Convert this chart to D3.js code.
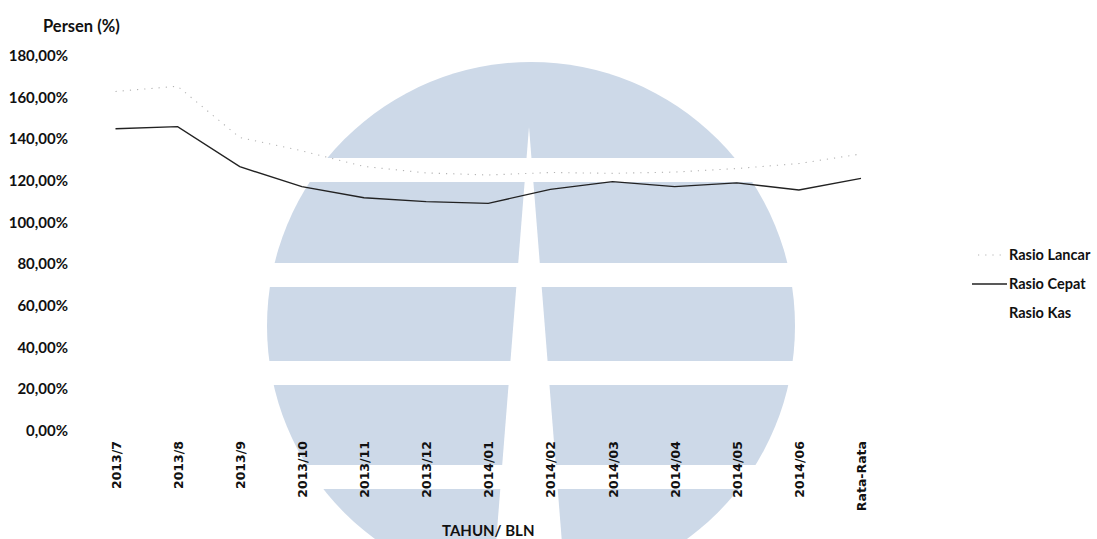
<!DOCTYPE html>
<html>
<head>
<meta charset="utf-8">
<script src="https://cdn.jsdelivr.net/npm/d3@7"></script>
<style>
  html, body { margin: 0; padding: 0; background: #fff; }
  svg { display: block; }
</style>
</head>
<body>
<svg id="chart" width="1097" height="539"></svg>
<script>
// ---- data ----
const categories = ["2013/7","2013/8","2013/9","2013/10","2013/11","2013/12","2014/01","2014/02","2014/03","2014/04","2014/05","2014/06","Rata-Rata"];
const rasioLancar = [162.5,165.0,140.4,134.0,126.5,123.4,122.4,123.6,123.2,123.8,125.5,127.9,132.5];
const rasioCepat  = [144.6,145.6,126.4,116.8,111.5,109.6,108.8,115.5,119.2,116.8,118.6,115.2,120.8];
const yTicks = [0,20,40,60,80,100,120,140,160,180];
const seriesNames = ["Rasio Lancar","Rasio Cepat","Rasio Kas"];
const yTitle = "Persen (%)";
const xTitle = "TAHUN/ BLN";

// ---- setup ----
const svg = d3.select("#chart");

const x = d3.scalePoint().domain(categories).range([115.5, 861]);
const y = d3.scaleLinear().domain([0, 180]).range([430, 55]);

// ---- watermark (background logo) ----
const wm = svg.append("g");
const wmColor = "#cdd9e8";
wm.append("circle").attr("cx", 531).attr("cy", 326).attr("r", 264).attr("fill", wmColor);
[[158,182],[263,287],[361,385],[465,489]].forEach(b => {
  wm.append("rect").attr("x", 250).attr("y", b[0]).attr("width", 560).attr("height", b[1]-b[0]).attr("fill", "#fff");
});
wm.append("polygon").attr("points", "529,127 566.5,600 491.5,600").attr("fill", "#fff");

// ---- axes ----
const locale = d3.formatLocale({decimal: ",", thousands: ".", grouping: [3], currency: ["", ""]});
const fmt = v => locale.format(".2f")(v) + "%";

const yAxis = svg.append("g")
  .attr("transform", "translate(68,0)")
  .call(d3.axisLeft(y).tickValues(yTicks).tickFormat(fmt).tickSize(0).tickPadding(0));
yAxis.select(".domain").remove();
yAxis.selectAll("text")
  .attr("font-family", "Lato, 'Open Sans', sans-serif")
  .attr("font-weight", 700)
  .attr("font-size", "15px")
  .attr("fill", "#111")
  .attr("dy", "0.36em");

const xAxis = svg.append("g")
  .attr("transform", "translate(0,441)")
  .call(d3.axisBottom(x).tickSize(0).tickPadding(0));
xAxis.select(".domain").remove();
xAxis.selectAll("text")
  .attr("font-family", "'DejaVu Sans', sans-serif")
  .attr("font-weight", 700)
  .attr("font-size", "12.5px")
  .attr("fill", "#111")
  .attr("text-anchor", "end")
  .attr("transform", "rotate(-90)")
  .attr("x", 0)
  .attr("y", 0)
  .attr("dy", "0.365em");

// titles
svg.append("text")
  .attr("x", 43).attr("y", 32)
  .attr("font-family", "Lato, 'Open Sans', sans-serif")
  .attr("font-weight", 700).attr("font-size", "16.5px").attr("fill", "#111")
  .text(yTitle);

svg.append("text")
  .attr("x", (x(categories[0]) + x(categories[categories.length-1])) / 2).attr("y", 536)
  .attr("text-anchor", "middle")
  .attr("font-family", "Lato, 'Open Sans', sans-serif")
  .attr("font-weight", 700).attr("font-size", "15px").attr("fill", "#111")
  .text(xTitle);

// ---- lines ----
const line = d3.line().x((d, i) => x(categories[i])).y(d => y(d));

svg.append("path")
  .datum(rasioLancar)
  .attr("d", line)
  .attr("fill", "none")
  .attr("stroke", "#b3b3b3")
  .attr("stroke-width", 1.1)
  .attr("stroke-dasharray", "1.2,6");

svg.append("path")
  .datum(rasioCepat)
  .attr("d", line)
  .attr("fill", "none")
  .attr("stroke", "#222")
  .attr("stroke-width", 1.4);

// ---- legend ----
const legendY = [255, 284, 313];
const lg = svg.append("g");
seriesNames.forEach((name, i) => {
  lg.append("text")
    .attr("x", 1009).attr("y", legendY[i])
    .attr("dy", "0.36em")
    .attr("font-family", "Lato, 'Open Sans', sans-serif")
    .attr("font-weight", 700).attr("font-size", "14.5px").attr("fill", "#111")
    .text(name);
});
lg.append("line").attr("x1", 978).attr("x2", 1003).attr("y1", legendY[0]).attr("y2", legendY[0])
  .attr("stroke", "#b3b3b3").attr("stroke-width", 1.1).attr("stroke-dasharray", "1.2,6");
lg.append("line").attr("x1", 972).attr("x2", 1007).attr("y1", legendY[1]).attr("y2", legendY[1])
  .attr("stroke", "#222").attr("stroke-width", 1.4);
</script>
</body>
</html>
